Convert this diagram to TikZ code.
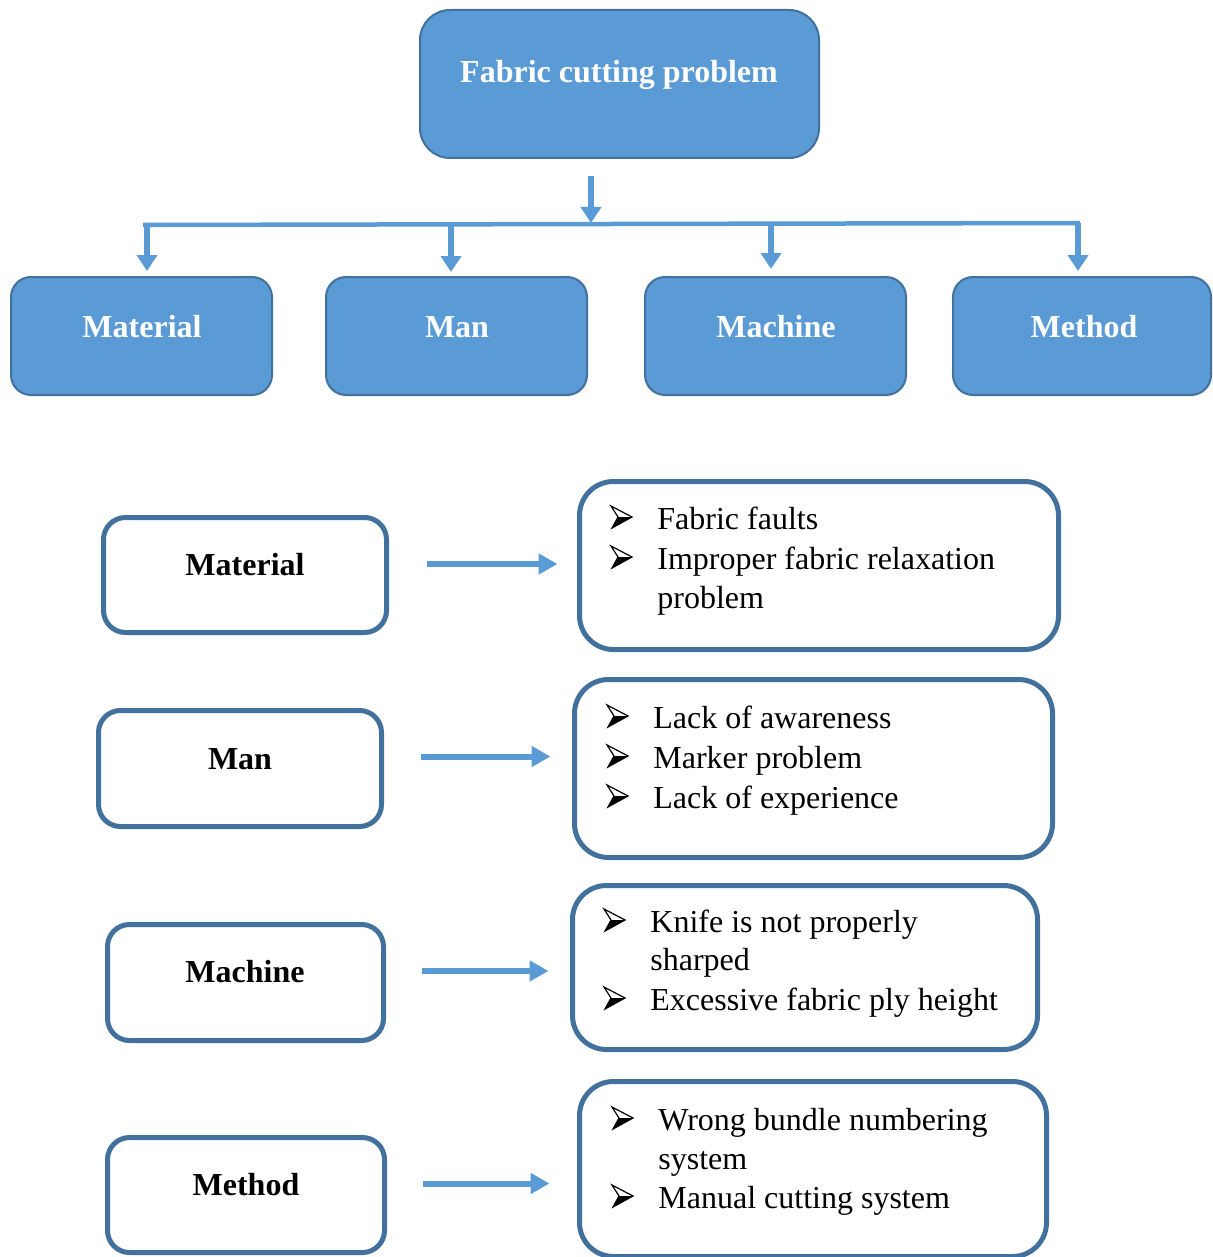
\documentclass[tikz,border=0pt]{standalone}
\usepackage{fontspec}
\setmainfont{Liberation Serif}
\usetikzlibrary{arrows.meta}
\definecolor{boxblue}{HTML}{5B9BD5}
\definecolor{edgeblue}{HTML}{41719C}
\begin{document}
\begin{tikzpicture}[x=0.5pt,y=-0.5pt,
  sz/.style 2 args={minimum width=#1*0.5pt, minimum height=#2*0.5pt},
  bluebox/.style={draw=edgeblue, fill=boxblue, line width=1pt, rounded corners=10pt, inner sep=0pt},
  topbox/.style={bluebox, rounded corners=15pt},
  leftbox/.style={draw=edgeblue, line width=2.5pt, rounded corners=11pt, inner sep=0pt},
  listbox/.style={draw=edgeblue, line width=2.5pt, rounded corners=17pt, inner sep=0pt},
  headtxt/.style={font=\fontsize{16pt}{20pt}\selectfont\bfseries, text=white, inner sep=0pt, anchor=base},
  cattxt/.style={font=\fontsize{16pt}{20pt}\selectfont\bfseries, inner sep=0pt, anchor=base},
  itemtxt/.style={font=\fontsize{16pt}{20pt}\selectfont, inner sep=0pt, anchor=base west},
  tree/.style={draw=boxblue, line width=3pt, -{Triangle[width=10pt,length=8pt]}},
  bus/.style={draw=boxblue, line width=2.25pt},
  link/.style={draw=boxblue, line width=3pt, -{Triangle[width=10pt,length=9.5pt]}},
  bmark/.pic={
    \fill[black] (-9,11) -- (11,0) -- (-3,0) -- cycle;
    \draw[black, line width=0.6pt, line join=miter] (-10,-11) -- (11,0) -- (-9,11) -- (-3,0) -- cycle;
  }]
\useasboundingbox (0,0) rectangle (1212,1257);

% top problem box
\node[topbox, sz={399}{148}] (top) at (619.5,84) {};
\node[headtxt] (toptxt) at (619,83) {Fabric cutting problem};

% four category boxes
\node[bluebox, sz={261}{118}] (b1) at (141.5,336) {};
\node[bluebox, sz={261}{118}] (b2) at (456.5,336) {};
\node[bluebox, sz={261}{118}] (b3) at (775.5,336) {};
\node[bluebox, sz={258}{118}] (b4) at (1082,336) {};
\node[headtxt] (b1t) at (142,337) {Material};
\node[headtxt] (b2t) at (457,337) {Man};
\node[headtxt] (b3t) at (776,337) {Machine};
\node[headtxt] (b4t) at (1084,337) {Method};

% distribution bus
\coordinate (hubin) at (591,176);
\coordinate (hub) at (591,223);
\coordinate (busL) at (143,225);
\coordinate (busR) at (1080,223);
\coordinate (tap1) at (147,225);
\coordinate (tap2) at (451,224);
\coordinate (tap3) at (771,224);
\coordinate (tap4) at (1078,223);
\draw[bus] (busL) -- (busR);
\draw[tree] (hubin) -- (hub);
\draw[tree, shorten >=2.5pt] (tap1) -- (tap1 |- b1.north);
\draw[tree, shorten >=2pt] (tap2) -- (tap2 |- b2.north);
\draw[tree, shorten >=3.5pt] (tap3) -- (tap3 |- b3.north);
\draw[tree, shorten >=2.5pt] (tap4) -- (tap4 |- b4.north);

% cause boxes
\node[leftbox, sz={283}{115}] (l1) at (245,575) {};
\node[leftbox, sz={283}{116}] (l2) at (240,768.5) {};
\node[leftbox, sz={276}{116}] (l3) at (245.5,982.5) {};
\node[leftbox, sz={277}{115}] (l4) at (246,1195) {};
\node[cattxt] (l1t) at (245,575) {Material};
\node[cattxt] (l2t) at (240,769) {Man};
\node[cattxt] (l3t) at (245,982) {Machine};
\node[cattxt] (l4t) at (246,1195) {Method};

% detail boxes
\node[listbox, sz={479}{168}] (r1) at (819,565.5) {};
\node[listbox, sz={478}{178}] (r2) at (813.5,768.5) {};
\node[listbox, sz={465}{164}] (r3) at (805,967.5) {};
\node[listbox, sz={467}{175}] (r4) at (813,1169) {};

% links from causes to details
\draw[link, shorten <=18.75pt, shorten >=9.75pt] ([yshift=5.5pt]l1.east) -- ([yshift=5.5pt]l1.east -| r1.west);
\draw[link, shorten <=18.25pt, shorten >=10.75pt] ([yshift=6pt]l2.east) -- ([yshift=6pt]l2.east -| r2.west);
\draw[link, shorten <=17.75pt, shorten >=10.75pt] ([yshift=5.75pt]l3.east) -- ([yshift=5.75pt]l3.east -| r3.west);
\draw[link, shorten <=17.75pt, shorten >=13.75pt] ([yshift=5.75pt]l4.east) -- ([yshift=5.75pt]l4.east -| r4.west);

% detail items
\pic at (621,517) {bmark};
\pic at (621,557) {bmark};
\node[itemtxt] (r1a) at (657,529) {Fabric faults};
\node[itemtxt] (r1b) at (657,569) {Improper fabric relaxation};
\node[itemtxt] (r1c) at (657,608) {problem};

\pic at (617,716) {bmark};
\pic at (617,756) {bmark};
\pic at (617,796) {bmark};
\node[itemtxt] (r2a) at (653,728) {Lack of awareness};
\node[itemtxt] (r2b) at (653,768) {Marker problem};
\node[itemtxt] (r2c) at (653,808) {Lack of experience};

\pic at (614,920) {bmark};
\pic at (614,998) {bmark};
\node[itemtxt] (r3a) at (650,932) {Knife is not properly};
\node[itemtxt] (r3b) at (650,970) {sharped};
\node[itemtxt] (r3c) at (650,1010) {Excessive fabric ply height};

\pic at (622,1118) {bmark};
\pic at (622,1196) {bmark};
\node[itemtxt] (r4a) at (658,1130) {Wrong bundle numbering};
\node[itemtxt] (r4b) at (658,1169) {system};
\node[itemtxt] (r4c) at (658,1208) {Manual cutting system};
\end{tikzpicture}
\end{document}
